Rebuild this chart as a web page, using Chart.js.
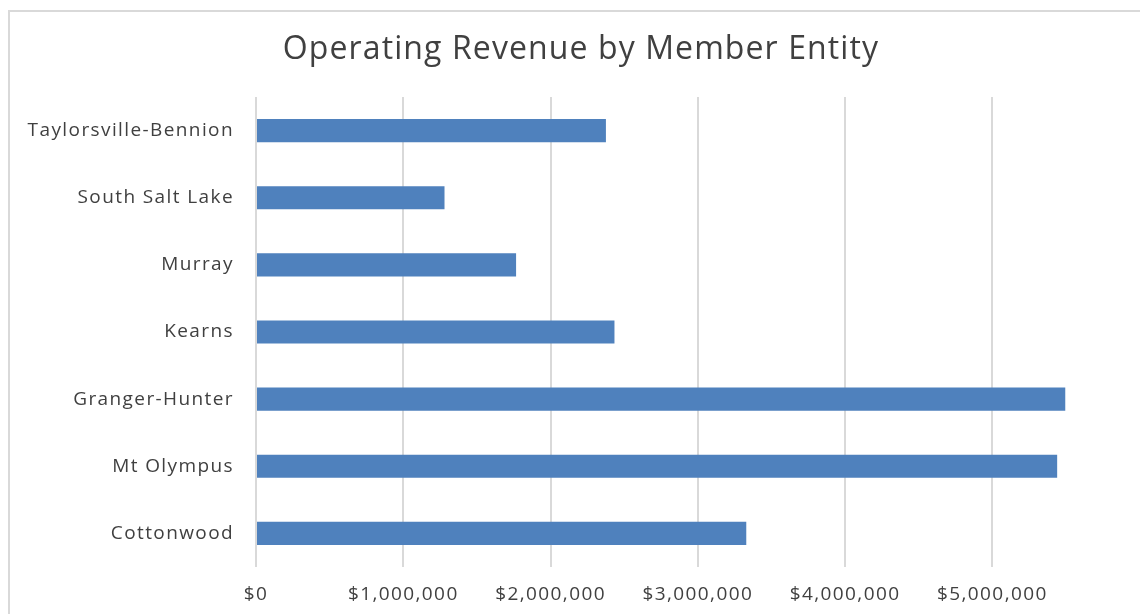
<!DOCTYPE html>
<html>
<head>
<meta charset="utf-8">
<script src="https://cdn.jsdelivr.net/npm/chart.js@4"></script>
<style>
html,body{margin:0;padding:0;background:#fff;}
#wrap{position:relative;width:1140px;height:614px;}
</style>
</head>
<body>
<div id="wrap"><canvas id="c" width="1140" height="614"></canvas></div>
<script>
const categories = ["Taylorsville-Bennion","South Salt Lake","Murray","Kearns","Granger-Hunter","Mt Olympus","Cottonwood"];
const revenue = [2376000,1280000,1766000,2434000,5495000,5440000,3329000];
const tickValues = [0,1000000,2000000,3000000,4000000,5000000];
const chartTitle = "Operating Revenue by Member Entity";

const FONT = "'Open Sans', sans-serif";

const spacing = {
  id:'spacing',
  beforeUpdate(chart){ chart.ctx.letterSpacing = '1.4px'; },
  beforeDraw(chart){ chart.ctx.letterSpacing = '1.4px'; }
};

const frame = {
  id:'frame',
  beforeDraw(chart){
    const ctx = chart.ctx;
    ctx.save();
    ctx.strokeStyle = '#d9d9d9';
    ctx.lineWidth = 2;
    ctx.beginPath();
    ctx.moveTo(9, 614);
    ctx.lineTo(9, 11);
    ctx.lineTo(1140, 11);
    ctx.stroke();
    ctx.restore();
  },
  afterDraw(chart){
    const ctx = chart.ctx;
    ctx.save();
    ctx.letterSpacing = '1.1px';
    ctx.font = "32px " + FONT;
    ctx.fillStyle = '#404040';
    ctx.textAlign = 'center';
    ctx.textBaseline = 'middle';
    ctx.fillText(chartTitle, 581, 50);
    ctx.restore();
  }
};

new Chart(document.getElementById('c'), {
  type:'bar',
  data:{
    labels:categories,
    datasets:[{
      data:revenue,
      backgroundColor:'#4f81bd',
      borderWidth:0,
      barPercentage:1,
      categoryPercentage:0.345
    }]
  },
  options:{
    indexAxis:'y',
    responsive:false,
    animation:false,
    devicePixelRatio:1,
    layout:{padding:{left:0,right:74,top:97,bottom:0}},
    plugins:{
      legend:{display:false},
      tooltip:{enabled:false},
      title:{display:false}
    },
    scales:{
      x:{
        min:0,
        max:5500000,
        afterBuildTicks(scale){
          scale.ticks = tickValues.map(v=>({value:v}));
        },
        afterFit(scale){ scale.height = 614-567; },
        grid:{color:'#d9d9d9',lineWidth:2,drawTicks:false},
        border:{display:false},
        ticks:{
          padding:16,
          color:'#404040',
          font:{family:FONT,size:19},
          maxRotation:0,
          autoSkip:false,
          callback:v=>'$'+Number(v).toLocaleString('en-US')
        }
      },
      y:{
        afterFit(scale){ scale.width = 256; },
        grid:{display:false,drawTicks:false},
        border:{display:false},
        ticks:{
          padding:22,
          color:'#404040',
          font:{family:FONT,size:19}
        }
      }
    }
  },
  plugins:[spacing, frame]
});
</script>
</body>
</html>
